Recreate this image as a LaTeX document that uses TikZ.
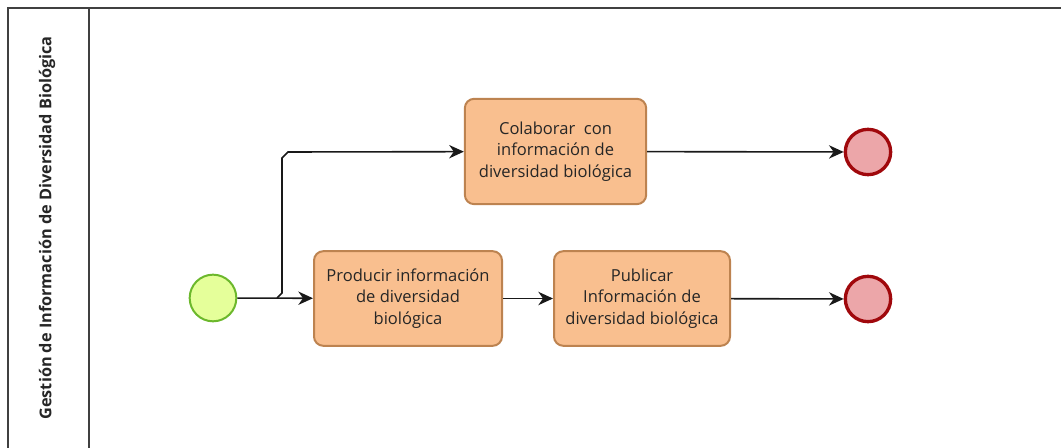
\documentclass[tikz,border=0pt]{standalone}
\usepackage{fontspec}
\setmainfont{Open Sans}
\usetikzlibrary{arrows.meta}
\definecolor{taskfill}{HTML}{F9BF8F}
\definecolor{taskdraw}{HTML}{BD8350}
\definecolor{startfill}{HTML}{E5FF9A}
\definecolor{startdraw}{HTML}{6CB82C}
\definecolor{endfill}{HTML}{ECA6A9}
\definecolor{enddraw}{HTML}{A0080C}
\tikzset{
  task/.style={draw=taskdraw, fill=taskfill, line width=1.5pt, rounded corners=7pt,
    align=center, inner sep=0pt, font=\fontsize{12.4}{16.3}\selectfont, text=black!85},
  startev/.style={circle, draw=startdraw, fill=startfill, line width=1.5pt, minimum size=35pt, inner sep=0pt},
  endev/.style={circle, draw=enddraw, fill=endfill, line width=2.5pt, minimum size=34pt, inner sep=0pt},
  flow/.style={line width=1.2pt, black!90, -{Stealth[length=11pt,width=10pt,inset=3.5pt]}}
}
\begin{document}
\begin{tikzpicture}[x=0.75pt, y=-0.75pt]
    \useasboundingbox (0,0) rectangle (1061,448);
    % pool and lane
    \draw[line width=1.5pt, black!75] (1061,8) -- (8,8) -- (8,448);
    \draw[line width=1.5pt, black!75] (89,8) -- (89,448);
    \node[rotate=90, font=\fontsize{12.2}{14}\selectfont\bfseries, text=black!85] (lane) at (47,228) {Gestión de Información de Diversidad Biológica};
    % events and tasks
    \node[startev] (start) at (213,298) {};
    \node[task, minimum width=141pt, minimum height=71pt] (producir) at (408,298.5) {Producir información\\de diversidad\\biológica};
    \node[task, minimum width=132pt, minimum height=71pt] (publicar) at (642,298.5) {Publicar\\Información de\\diversidad biológica};
    \node[task, minimum width=136pt, minimum height=79pt] (colaborar) at (555.5,151.5) {Colaborar\ \ con\\información de\\diversidad biológica};
    \node[endev] (fin1) at (868,152) {};
    \node[endev] (fin2) at (868,299) {};
    % flows
    \coordinate (split) at (277,298);
    \draw[flow] (start) -- (producir);
    \draw[flow] (split) -- (282,293) -- (282,158) -- (288,152) -- (colaborar);
    \draw[flow] (producir) -- (publicar);
    \draw[flow] (colaborar) -- (fin1);
    \draw[flow] (publicar) -- (fin2);
  \end{tikzpicture}
\end{document}
